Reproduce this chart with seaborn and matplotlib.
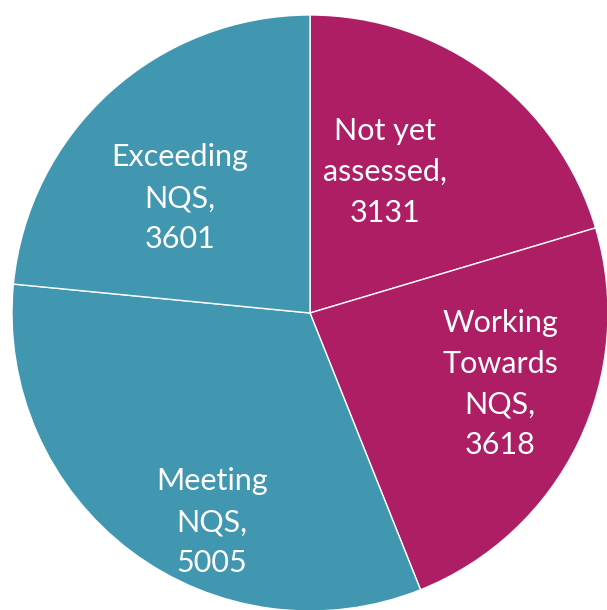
import numpy as np
import matplotlib
matplotlib.use("Agg")
import matplotlib.pyplot as plt
import seaborn as sns

# ── Data ──────────────────────────────────────────────────────
labels = ["Not yet\nassessed,\n3131", "Working\nTowards\nNQS,\n3618",
          "Meeting\nNQS,\n5005", "Exceeding\nNQS,\n3601"]
values = [3131, 3618, 5005, 3601]
colors = ["#AB1660", "#AB1660", "#3B93AE", "#3B93AE"]

sns.set_theme(style="white")
plt.rcParams["font.family"] = ["Lato", "DejaVu Sans"]

fig = plt.figure(figsize=(6.07, 6.10), dpi=100)
ax = fig.add_axes([12 / 607, -1 / 610, 596 / 607, 596 / 610])

wedges, texts = ax.pie(values, colors=colors, startangle=90, counterclock=False,
                       radius=1, labels=labels, labeldistance=0.6,
                       wedgeprops=dict(edgecolor="white", linewidth=1.0, alpha=0.97),
                       textprops=dict(color="white", fontsize=22, ha="center",
                                      va="center", linespacing=1.55))

# label placement inside the slices (radius fraction, angle shift in degrees)
dist = [0.536, 0.681, 0.775, 0.582]
shift = [8.6, 5.3, 11.8, 6.3]
for w, t, d, s in zip(wedges, texts, dist, shift):
    mid = np.deg2rad((w.theta1 + w.theta2) / 2 + s)
    t.set_position((d * np.cos(mid), d * np.sin(mid)))
    t.set_ha("center")

ax.set_xlim(-1, 1)
ax.set_ylim(-1, 1)
ax.set_aspect("equal")
ax.axis("off")
fig.savefig("out.png", dpi=100)
